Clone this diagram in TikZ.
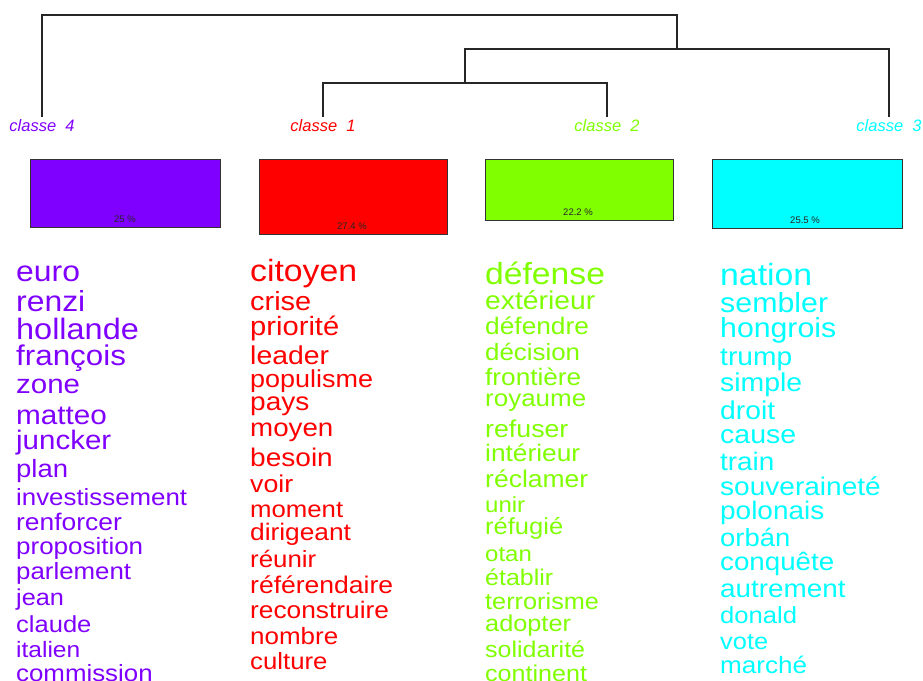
\documentclass[tikz,border=0pt]{standalone}
\usepackage{fontspec}
\setmainfont{Liberation Sans}
\newfontfamily\wordfont[FakeStretch=1.1]{Liberation Sans}
\definecolor{cfour}{HTML}{8000FF}
\definecolor{cone}{HTML}{FF0000}
\definecolor{ctwo}{HTML}{80FF00}
\definecolor{cthree}{HTML}{00FFFF}
\begin{document}
\begin{tikzpicture}[x=1pt,y=-1pt,
  dendro/.style={line width=1.3pt,black!85},
  classlab/.style={anchor=base,inner sep=0pt,font=\fontsize{16.5}{16.5}\selectfont\itshape},
  clbox/.style={draw=black!80,line width=0.9pt,inner sep=0pt},
  pct/.style={inner sep=0pt,text=black!85,font=\fontsize{9.5}{9.5}\selectfont},
  word/.style={anchor=mid west,inner sep=0pt,yshift=-7pt,font=\wordfont\fontsize{#1}{#1}\selectfont}]
\useasboundingbox (0,0) rectangle (923,680);
\clip (0,0) rectangle (923,680);
% dendrogram
\coordinate (d4) at (42,117);
\coordinate (d1) at (323,117);
\coordinate (d2) at (607,117);
\coordinate (d3) at (889,117);
\coordinate (j12) at (465,83);
\coordinate (j123) at (677,49);
\coordinate (jroot) at (677,15);
\draw[dendro] (d1) |- (j12) -| (d2);
\draw[dendro] (j12) |- (j123) -| (d3);
\draw[dendro] (d4) |- (jroot) -- (j123);
% class labels
\node[classlab,text=cfour] (l4) at (42,131) {classe\ \ 4};
\node[classlab,text=cone] (l1) at (323,131) {classe\ \ 1};
\node[classlab,text=ctwo] (l2) at (607,131) {classe\ \ 2};
\node[classlab,text=cthree] (l3) at (889,131) {classe\ \ 3};
% boxes
\node[clbox,fill=cfour,minimum width=190pt,minimum height=68pt] (b4) at (125,193) {};
\node[clbox,fill=cone,minimum width=188pt,minimum height=75pt] (b1) at (353,196.5) {};
\node[clbox,fill=ctwo,minimum width=188pt,minimum height=61pt] (b2) at (579,189.5) {};
\node[clbox,fill=cthree,minimum width=190pt,minimum height=69pt] (b3) at (807,193.5) {};
\node[pct] (p4) at (125,219) {25 \%};
\node[pct] (p1) at (352,226) {27.4 \%};
\node[pct] (p2) at (578,212.5) {22.2 \%};
\node[pct] (p3) at (805,220) {25.5 \%};
% words classe 4
\begin{scope}[text=cfour]
\foreach \yy/\ss/\tt [count=\i] in {272/29/euro,302/29/renzi,330/29.5/hollande,356/28.5/françois,384/26.8/zone,415/27/matteo,440/26.8/juncker,468/25/plan,496/23.5/investissement,521/24/renforcer,545/23.6/proposition,570/23.5/parlement,596/23/jean,623/23.2/claude,648/22.3/italien,672/23.5/commission}
  \node[word=\ss] (wa\i) at (16,\yy) {\tt};
\end{scope}
% words classe 1
\begin{scope}[text=cone]
\foreach \yy/\ss/\tt [count=\i] in {272/30.7/citoyen,301/26.3/crise,326/26.5/priorité,355/25.8/leader,378/24.5/populisme,401/25.5/pays,427/25.2/moyen,457/25.5/besoin,483/24.3/voir,508/23.4/moment,531/23.9/dirigeant,558/23.5/réunir,584/24.1/référendaire,609/23.9/reconstruire,635/23.6/nombre,660/23.4/culture}
  \node[word=\ss] (wb\i) at (250,\yy) {\tt};
\end{scope}
% words classe 2
\begin{scope}[text=ctwo]
\foreach \yy/\ss/\tt [count=\i] in {275/30.6/défense,300/25.7/extérieur,325/23.9/défendre,351/23.5/décision,376/23.8/frontière,397/23.6/royaume,428/24.3/refuser,452/23.9/intérieur,478/24.1/réclamer,503/21.8/unir,525/23.2/réfugié,552/21.8/otan,576/22.7/établir,600/23/terrorisme,622/23/adopter,648/22.7/solidarité,672/22.8/continent}
  \node[word=\ss] (wc\i) at (485,\yy) {\tt};
\end{scope}
% words classe 3
\begin{scope}[text=cthree]
\foreach \yy/\ss/\tt [count=\i] in {276/30.7/nation,303/27.6/sembler,328/27.5/hongrois,356/25.6/trump,382/25.8/simple,410/25.7/droit,434/25.9/cause,461/25.3/train,486/25.5/souveraineté,510/25.4/polonais,537/24.9/orbán,561/25.2/conquête,588/25.3/autrement,614/23.3/donald,640/23.1/vote,664/23.7/marché}
  \node[word=\ss] (wd\i) at (720,\yy) {\tt};
\end{scope}
\end{tikzpicture}
\end{document}
